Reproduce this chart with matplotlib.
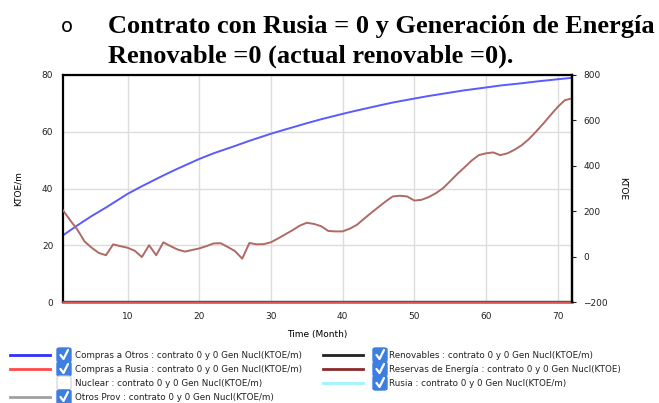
import matplotlib
matplotlib.use("Agg")
import matplotlib.pyplot as plt
from matplotlib.lines import Line2D
from matplotlib.patches import FancyBboxPatch

# months
months = list(range(1, 73))

# Compras a Otros (KTOE/m), read every few months
otros_x = [1, 3, 5, 7, 10, 12, 15, 17, 20, 22, 25, 27, 30, 32, 35, 37, 40,
           42, 45, 47, 50, 52, 55, 57, 60, 62, 65, 67, 70, 72]
otros_y = [23.5, 27.0, 30.3, 33.3, 38.1, 40.8, 44.6, 47.0, 50.4, 52.4, 55.0,
           56.8, 59.3, 60.8, 63.0, 64.4, 66.3, 67.5, 69.2, 70.3, 71.7, 72.6,
           73.8, 74.6, 75.6, 76.3, 77.1, 77.7, 78.5, 79.0]

# Reservas de Energia (KTOE), right axis, one value per month
reservas = [204, 160, 119, 67, 39, 16, 6, 54, 46, 39, 26, -2, 50, 6, 63, 46,
            31, 22, 29, 36, 46, 58, 59, 42, 24, -9, 60, 54, 55, 63, 80, 98,
            116, 136, 149, 144, 134, 113, 111, 111, 123, 140, 167, 193, 218,
            243, 265, 268, 265, 247, 250, 262, 279, 301, 332, 364, 393, 423,
            447, 455, 459, 447, 455, 471, 491, 518, 551, 586, 623, 659, 689,
            697]

# series that stay at zero all along
zero_series = [0] * len(months)

left_ticks = [0, 20, 40, 60, 80]
right_ticks = [-200, 0, 200, 400, 600, 800]
x_ticks = [10, 20, 30, 40, 50, 60, 70]

legend_left = [
    ("Compras a Otros : contrato 0 y 0 Gen Nucl(KTOE/m)", "#2f2fff", True),
    ("Compras a Rusia : contrato 0 y 0 Gen Nucl(KTOE/m)", "#ff4a4a", True),
    ("Nuclear : contrato 0 y 0 Gen Nucl(KTOE/m)", None, False),
    ("Otros Prov : contrato 0 y 0 Gen Nucl(KTOE/m)", "#a0a0a0", True),
]
legend_right = [
    ("Renovables : contrato 0 y 0 Gen Nucl(KTOE/m)", "#222222", True),
    ("Reservas de Energía : contrato 0 y 0 Gen Nucl(KTOE)", "#8b2a2a", True),
    ("Rusia : contrato 0 y 0 Gen Nucl(KTOE/m)", "#9ff4ff", True),
]

W, H = 659, 403
fig = plt.figure(figsize=(W / 100, H / 100), dpi=100)
ax = fig.add_axes([63 / W, 1 - 302 / H, (572 - 63) / W, (302 - 75) / H])
ax2 = ax.twinx()

ax.plot(months, zero_series, color="#a0a0a0", lw=1.5, clip_on=False)
ax.plot(months, zero_series, color="#9ff4ff", lw=1.5, clip_on=False)
ax.plot(months, zero_series, color="#222222", lw=1.5, clip_on=False)
ax.plot(months, zero_series, color="#d9534f", lw=1.8, clip_on=False, zorder=5)
ax.plot(otros_x, otros_y, color="#5a5aff", lw=1.4)
ax2.plot(months, reservas, color="#b06a66", lw=1.4)

ax.set_xlim(1, 72)
ax.set_ylim(0, 80)
ax2.set_ylim(-200, 800)
ax.set_xticks(x_ticks)
ax.set_yticks(left_ticks)
ax2.set_yticks(right_ticks)

ax.grid(True, color="#dddddd", lw=1.0)
ax.set_axisbelow(True)
ax.tick_params(axis="both", length=0, labelsize=6.5, colors="#222222", pad=7)
ax2.tick_params(axis="y", length=3, labelsize=6.5, colors="#222222", pad=5)
for a in (ax, ax2):
    for s in a.spines.values():
        s.set_linewidth(1.6)
        s.set_color("black")
for side in ("bottom", "top", "left"):
    ax2.spines[side].set_visible(False)

ax.set_ylabel("KTOE/m", fontsize=6.5, labelpad=14)
ax2.set_ylabel("KTOE", fontsize=6.5, rotation=-90, labelpad=14)
ax.set_xlabel("Time (Month)", fontsize=6.5, labelpad=7)

# title
fig.text(61 / W, 1 - 32.5 / H, "o", fontsize=14, family="DejaVu Sans",
         va="baseline", ha="left")
fig.text(108 / W, 1 - 33 / H, "Contrato con Rusia = 0 y Generación de Energía",
         fontsize=19, family="Liberation Serif", weight="bold",
         va="baseline", ha="left")
fig.text(108 / W, 1 - 63 / H, "Renovable =0 (actual renovable =0).",
         fontsize=19, family="Liberation Serif", weight="bold",
         va="baseline", ha="left")


def legend_entry(x_line, x_box, x_text, y, label, color, checked):
    yf = 1 - y / H
    if color is not None:
        fig.add_artist(Line2D([x_line / W, (x_line + 40) / W], [yf, yf],
                              color=color, lw=2.0, transform=fig.transFigure))
    bw, bh = 14 / W, 14 / H
    if checked:
        box = FancyBboxPatch((x_box / W, yf - bh / 2), bw, bh,
                             boxstyle="round,pad=0,rounding_size=0.004",
                             facecolor="#3d7fe0", edgecolor="#3d7fe0",
                             transform=fig.transFigure)
        fig.add_artist(box)
        fig.add_artist(Line2D([(x_box + 3.5) / W, (x_box + 6.5) / W, (x_box + 11) / W],
                              [yf, yf - 4 / H, yf + 5 / H], color="white", lw=1.6,
                              transform=fig.transFigure, solid_capstyle="round"))
    else:
        box = FancyBboxPatch((x_box / W, yf - bh / 2), bw, bh,
                             boxstyle="round,pad=0,rounding_size=0.004",
                             facecolor="white", edgecolor="#d0d0d0", lw=0.8,
                             transform=fig.transFigure)
        fig.add_artist(box)
    fig.text(x_text / W, yf, label, fontsize=6.3, va="center", ha="left",
             color="#222222")


rows = [355, 369, 383, 397]
for (label, color, checked), y in zip(legend_left, rows):
    legend_entry(10, 57, 75, y, label, color, checked)
for (label, color, checked), y in zip(legend_right, rows):
    legend_entry(323, 373, 389, y, label, color, checked)

fig.savefig("out.png", dpi=100)
